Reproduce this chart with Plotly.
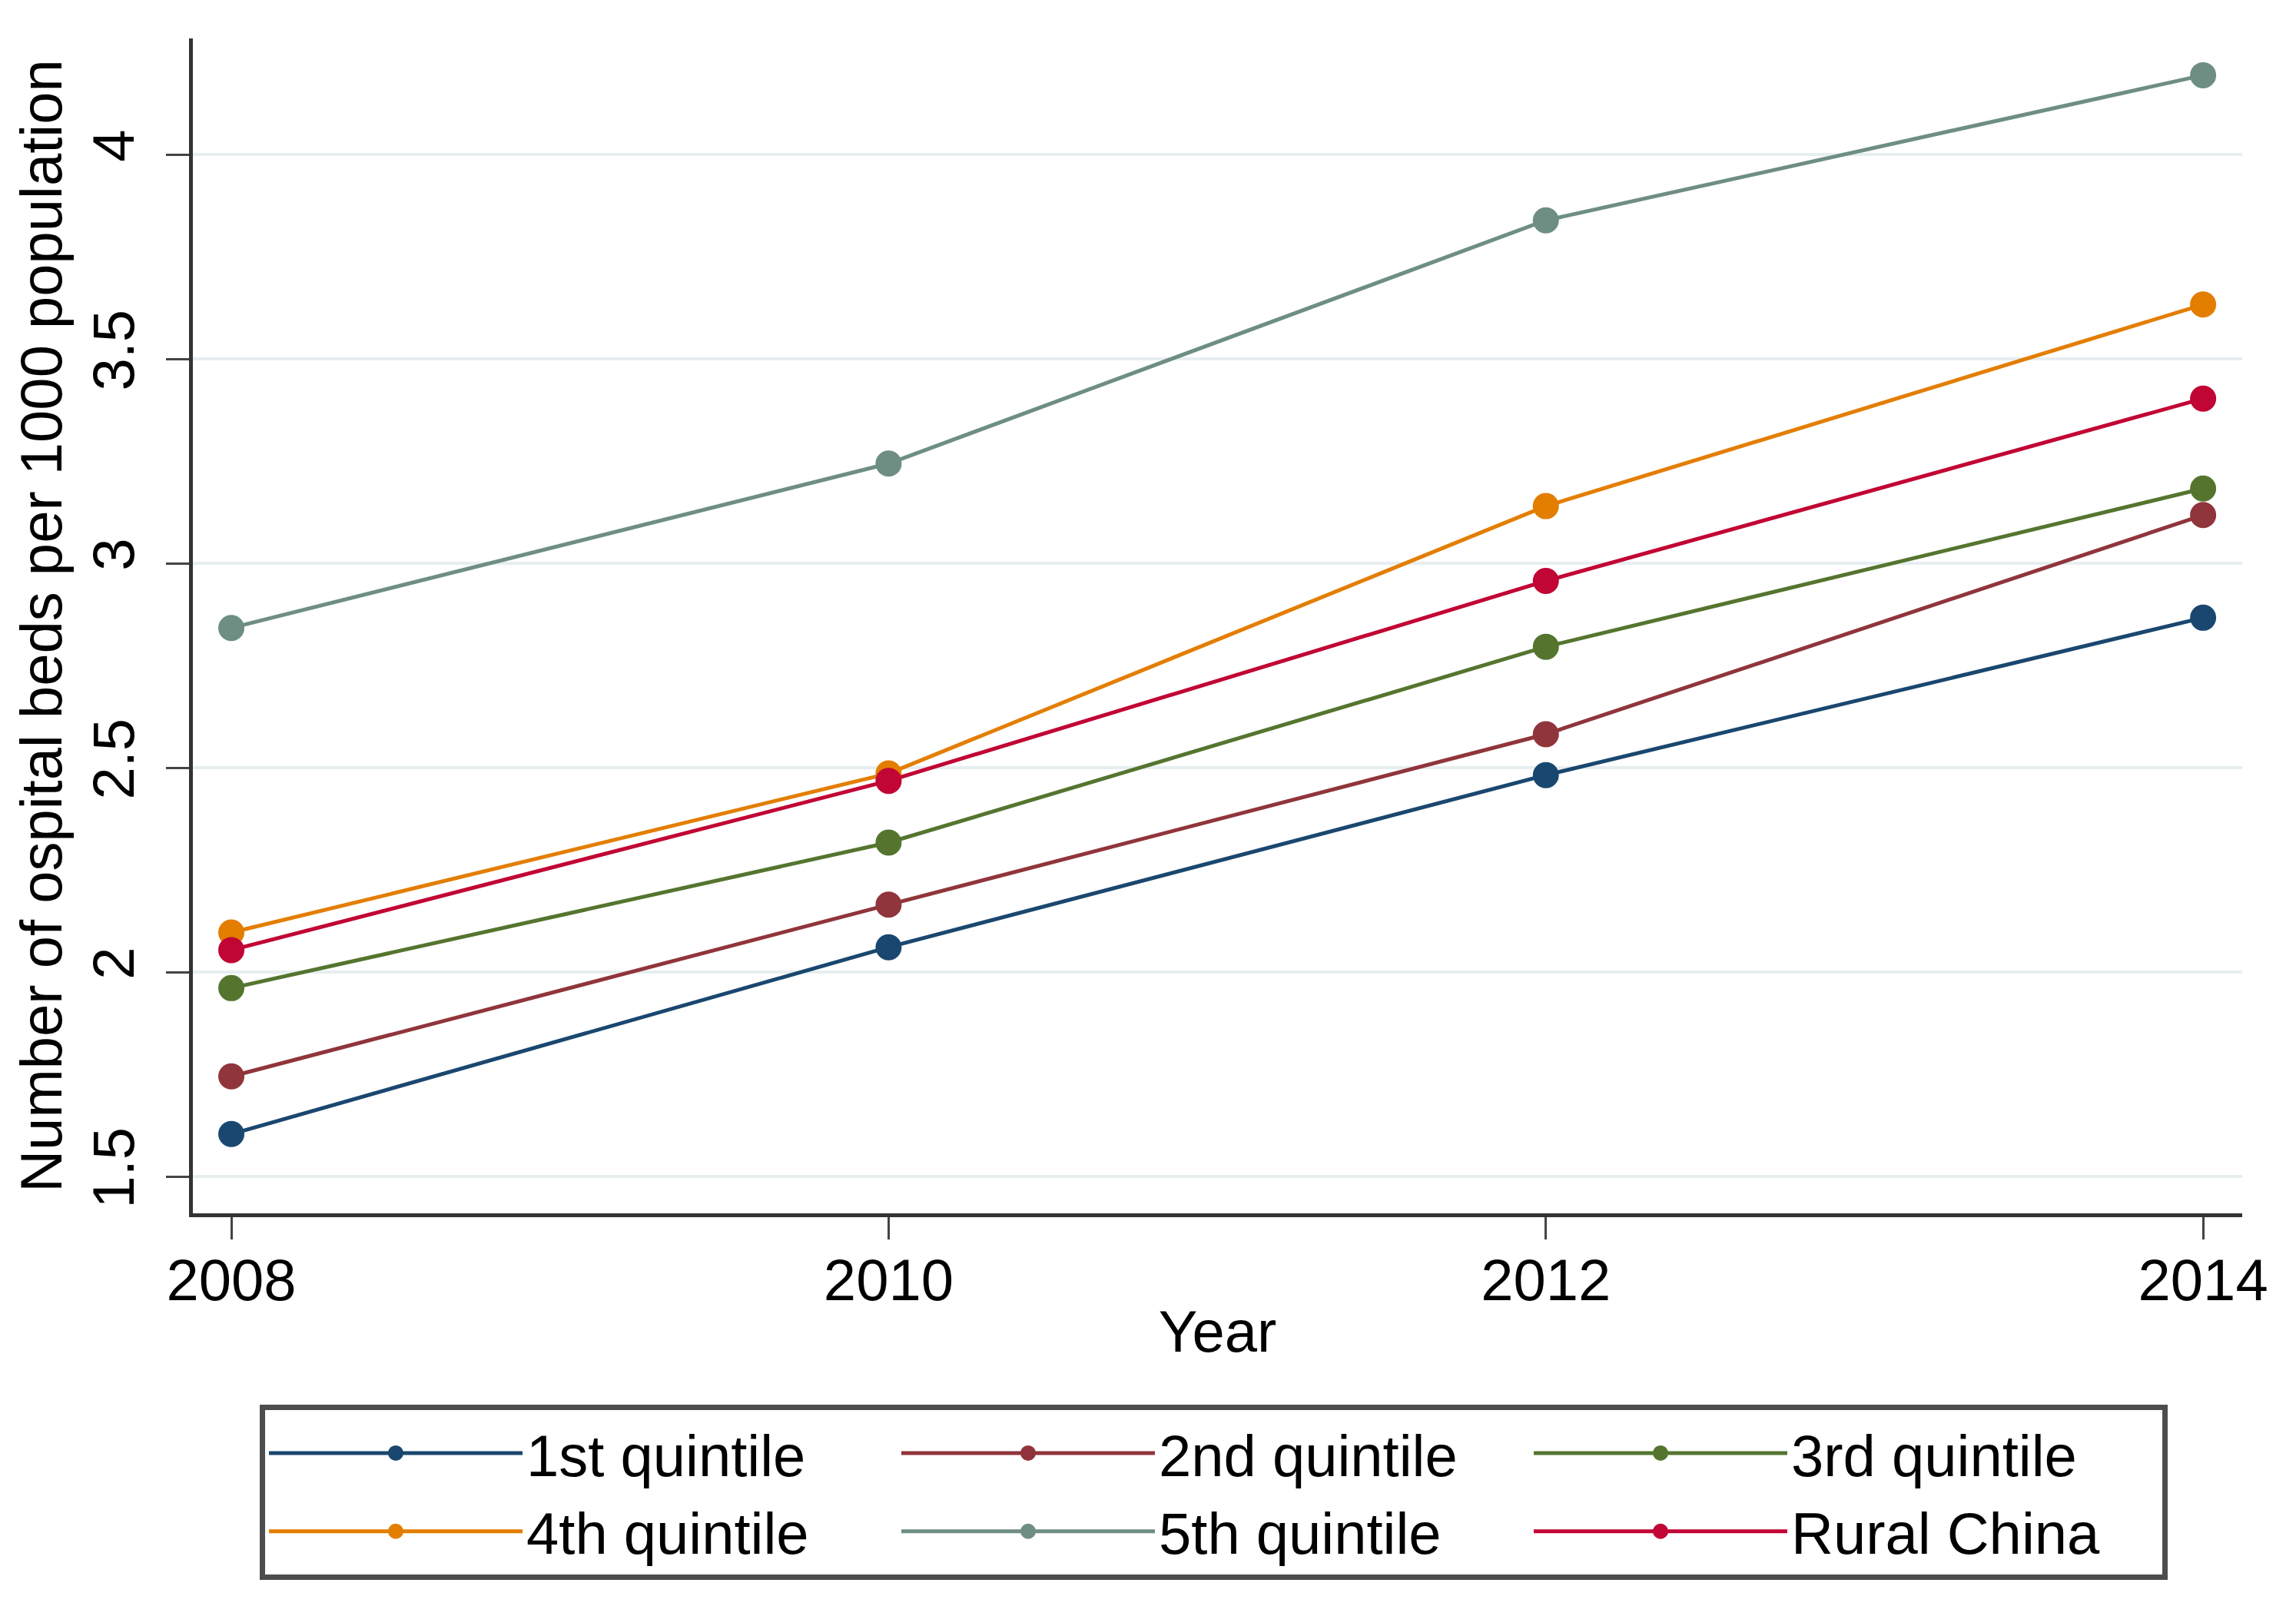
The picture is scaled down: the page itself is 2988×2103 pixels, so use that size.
import plotly.graph_objects as go

years = [2008, 2010, 2012, 2014]
series_names = ["1st quintile", "2nd quintile", "3rd quintile",
                "4th quintile", "5th quintile", "Rural China"]
q1 = [1.604, 2.061, 2.482, 2.867]
q2 = [1.745, 2.165, 2.582, 3.118]
q3 = [1.961, 2.317, 2.796, 3.183]
q4 = [2.097, 2.486, 3.140, 3.633]
q5 = [2.842, 3.244, 3.839, 4.194]
rural = [2.054, 2.468, 2.957, 3.403]
series_values = [q1, q2, q3, q4, q5, rural]
colors = ["#1a476f", "#90353b", "#55752f", "#e37e00", "#6e8e84", "#c10534"]
y_ticks = [1.5, 2, 2.5, 3, 3.5, 4]
y_tick_text = ["1.5", "2", "2.5", "3", "3.5", "4"]
x_tick_text = ["2008", "2010", "2012", "2014"]

FONT = "Liberation Sans, Arial, sans-serif"
FS = 76

fig = go.Figure()
for name, vals, col in zip(series_names, series_values, colors):
    fig.add_trace(go.Scatter(
        x=years, y=vals, name=name, mode="lines+markers",
        line=dict(color=col, width=5),
        marker=dict(color=col, size=30, line=dict(width=4, color=col)),
    ))

fig.update_layout(
    width=2988, height=2103,
    paper_bgcolor="white", plot_bgcolor="white",
    margin=dict(l=243, r=78, t=42, b=532, autoexpand=False),
    font=dict(family=FONT, size=FS, color="black"),
    showlegend=True,
    legend=dict(
        orientation="h",
        xref="container", yref="container",
        x=330 / 2988, y=1 - 1820 / 2103,
        xanchor="left", yanchor="top",
        bgcolor="white", bordercolor="#4d4d4d", borderwidth=7,
        font=dict(family=FONT, size=FS, color="black"),
        itemwidth=330,
        entrywidth=478, entrywidthmode="pixels",
        traceorder="normal",
    ),
)

fig.update_xaxes(
    range=[2007.883, 2014.119],
    tickvals=years, ticktext=x_tick_text,
    showgrid=False, zeroline=False,
    showline=True, linecolor="#333333", linewidth=5,
    ticks="outside", ticklen=29, tickwidth=3, tickcolor="#444444",
    ticklabelstandoff=-12,
    tickfont=dict(family=FONT, size=FS, color="black"),
    title=dict(text="Year", font=dict(family=FONT, size=FS, color="black"), standoff=0),
)
fig.update_yaxes(
    range=[1.41, 4.284],
    tickvals=y_ticks, ticktext=y_tick_text, tickangle=-90,
    showgrid=True, gridcolor="#e6eef0", gridwidth=4,
    zeroline=False,
    showline=True, linecolor="#333333", linewidth=5,
    ticks="outside", ticklen=30, tickwidth=3, tickcolor="#444444",
    ticklabelstandoff=12,
    tickfont=dict(family=FONT, size=FS, color="black"),
    title=dict(text="Number of ospital beds per 1000 population",
               font=dict(family=FONT, size=FS, color="black"), standoff=0),
)

fig.write_html("out.html")
